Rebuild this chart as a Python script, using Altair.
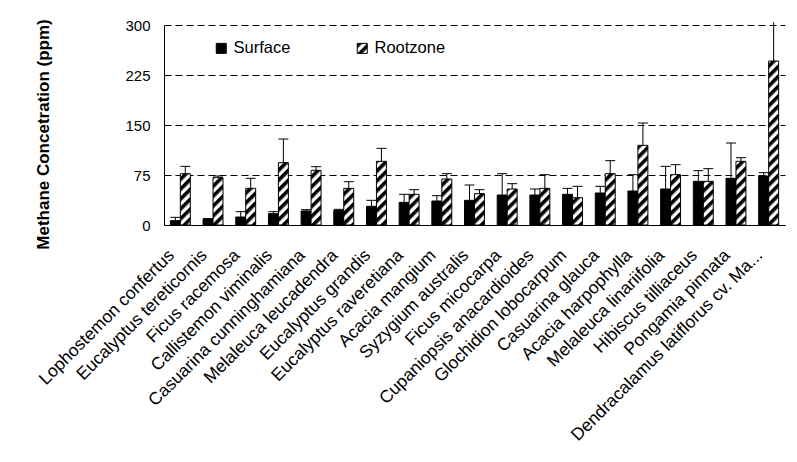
import altair as alt
import pandas as pd
import jinja2

species = [
    "Lophostemon confertus", "Eucalyptus tereticornis", "Ficus racemosa",
    "Callistemon viminalis", "Casuarina cunninghamiana", "Melaleuca leucadendra",
    "Eucalyptus grandis", "Eucalyptus raveretiana", "Acacia mangium",
    "Syzygium australis", "Ficus micocarpa", "Cupaniopsis anacardioides",
    "Glochidion lobocarpum", "Casuarina glauca", "Acacia harpophylla",
    "Melaleuca linariifolia", "Hibiscus tilliaceus", "Pongamia pinnata",
    "Dendracalamus latiflorus cv. Ma...",
]
series_names = ["Surface", "Rootzone"]
surface = [6.5, 9, 12, 17, 21, 22, 28, 34, 36, 37, 45, 45, 46, 48, 51, 54, 65.5, 70, 73.5]
surface_err = [5, 0.5, 8, 3, 2, 1.5, 9, 12, 8, 23, 32, 9, 9, 10, 24.5, 34, 16, 53, 5]
rootzone = [77, 71, 55, 93.5, 82, 55, 95.5, 46, 69, 47, 54, 55, 41, 77, 119.5, 75.5, 65.5, 95.5, 246]
rootzone_err = [11, 2.5, 15, 35.5, 5.5, 10, 19.5, 7, 8, 6, 8, 20.5, 17, 19.5, 33.5, 15, 19, 5.5, 58]
y_ticks = [0, 75, 150, 225, 300]

rows = []
for i, sp in enumerate(species):
    rows.append({"species": sp, "series": "Surface", "value": surface[i],
                 "upper": surface[i] + surface_err[i]})
    rows.append({"species": sp, "series": "Rootzone", "value": rootzone[i],
                 "upper": rootzone[i] + rootzone_err[i]})
df = pd.DataFrame(rows)

FONT = "Liberation Sans"

base = alt.Chart(df).encode(
    x=alt.X(
        "species:N", sort=species,
        scale=alt.Scale(paddingInner=0.39, paddingOuter=0.195),
        axis=alt.Axis(
            title=None, labelAngle=-45, labelAlign="right", labelBaseline="top",
            labelFontSize=17.5, labelColor="black", labelFont=FONT, labelPadding=21,
            labelOffset=-15, labelLimit=400, ticks=False, domainColor="black",
            domainWidth=1, grid=False, labelOverlap=False,
        ),
    ),
    xOffset=alt.XOffset("series:N", sort=series_names,
                        scale=alt.Scale(paddingInner=0, paddingOuter=0)),
)

bars = base.mark_bar(stroke="black", strokeWidth=1).encode(
    y=alt.Y(
        "value:Q", scale=alt.Scale(domain=[0, 300], nice=False),
        axis=alt.Axis(
            values=y_ticks, title="Methane Concetration (ppm)", titleFontSize=17,
            titleFontWeight="bold", titleFont=FONT, titleColor="black",
            titleAngle=270, titleX=-121, titleY=109, titleAlign="center",
            titleBaseline="middle", labelFontSize=15, labelFont=FONT,
            labelColor="black", labelPadding=14, ticks=False, domainColor="black",
            domainWidth=1, grid=True, gridColor="black", gridDash=[7, 4],
            gridWidth=1, gridOpacity=1,
        ),
    ),
    fill=alt.Fill(
        "series:N",
        scale=alt.Scale(domain=series_names, range=["black", "url(#hatch)"]),
        legend=alt.Legend(
            title=None, orient="none", legendX=49, legendY=15,
            direction="horizontal", symbolType="square", symbolSize=100,
            symbolStrokeColor="black", symbolStrokeWidth=1, labelFontSize=16.5,
            labelFont=FONT, labelColor="black", labelOffset=4, columnPadding=63,
            padding=0,
        ),
    ),
)

rules = base.mark_rule(color="black", strokeWidth=1).encode(
    y="value:Q", y2="upper:Q"
)
caps = base.transform_filter("datum.upper <= 300").mark_tick(
    color="black", thickness=1, size=10, opacity=1
).encode(y="upper:Q")

chart = alt.layer(bars, rules, caps).properties(
    width=621, height=200,
    autosize=alt.AutoSizeParams(type="none"),
    padding={"left": 164, "top": 25, "right": 12, "bottom": 237},
    background="white",
).configure_view(stroke=None)

TEMPLATE = jinja2.Template("""<!DOCTYPE html>
<html>
<head>
  <meta charset="utf-8">
  <style>
    body { margin: 0; }
    #{{ output_div }}.vega-embed { width: 100%; display: flex; }
    #{{ output_div }}.vega-embed details,
    #{{ output_div }}.vega-embed details summary { position: relative; }
  </style>
  <script type="text/javascript" src="{{ base_url }}/vega@{{ vega_version }}"></script>
  <script type="text/javascript" src="{{ base_url }}/vega-lite@{{ vegalite_version }}"></script>
  <script type="text/javascript" src="{{ base_url }}/vega-embed@{{ vegaembed_version }}"></script>
</head>
<body>
  <svg width="0" height="0" style="position:absolute;left:0;top:0" aria-hidden="true">
    <defs>
      <pattern id="hatch" patternUnits="userSpaceOnUse" width="7" height="7" patternTransform="rotate(45)">
        <rect x="0" y="0" width="7" height="7" fill="white"></rect>
        <rect x="0" y="0" width="3.6" height="7" fill="black"></rect>
      </pattern>
    </defs>
  </svg>
  <div id="{{ output_div }}"></div>
  <script type="text/javascript">
    var spec = {{ spec }};
    var embedOpt = {{ embed_options }};
    vegaEmbed("#{{ output_div }}", spec, embedOpt).catch(function (err) {
      document.getElementById("{{ output_div }}").innerHTML = String(err);
    });
  </script>
</body>
</html>
""")

chart.save("out.html", embed_options={"renderer": "svg", "actions": False}, template=TEMPLATE)
